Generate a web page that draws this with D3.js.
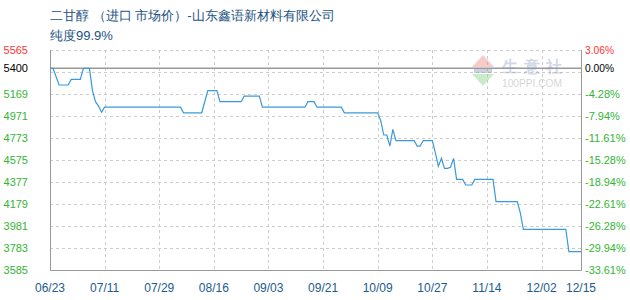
<!DOCTYPE HTML>
<html>
<head>
<meta charset="utf-8">
<script src="https://d3js.org/d3.v7.min.js"></script>
<style>
  body { margin: 0; background: #fff; }
  text { font-family: "Liberation Sans", Arial, sans-serif; }
</style>
</head>
<body>
<svg id="chart" width="630" height="300"></svg>
<script>

// price points (date, yuan/ton)
const dates = ["06/23","06/24","06/26","06/29","06/30","07/03","07/04","07/06","07/07","07/08",
  "07/09","07/10","07/11","08/05","08/06","08/12","08/14","08/17","08/18","08/25",
  "08/26","08/31","09/01","09/15","09/16","09/18","09/19","09/27","09/28","10/09",
  "10/10","10/11","10/12","10/13","10/14","10/15","10/21","10/22","10/23","10/24",
  "10/27","10/28","10/29","10/30","10/31","11/01","11/02","11/03","11/04","11/06",
  "11/07","11/09","11/10","11/16","11/17","11/24","11/25","11/26","12/10","12/11","12/15"];
const prices = [5400,5400,5250,5250,5300,5300,5400,5400,5200,5100,
  5060,5005,5050,5050,5000,5000,5200,5200,5100,5100,
  5150,5150,5050,5050,5100,5100,5050,5050,5000,5000,
  4930,4800,4800,4700,4850,4750,4750,4700,4700,4750,
  4750,4640,4520,4590,4500,4500,4510,4590,4400,4400,
  4350,4350,4400,4400,4200,4200,4100,3950,3950,3750,3750];

const basePrice = 5400;
const yTicks = [5565, 5169, 4971, 4773, 4575, 4377, 4179, 3981, 3783, 3585];
const gridTicks = [5565, 5367, 5169, 4971, 4773, 4575, 4377, 4179, 3981, 3783, 3585];
const xLabels = ["06/23","07/11","07/29","08/16","09/03","09/21","10/09","10/27","11/14","12/02","12/15"];

const title = "二甘醇 （进口 市场价）-山东鑫语新材料有限公司";
const subtitle = "纯度99.9%";

const parse = d3.timeParse("%Y/%m/%d");
const toDate = s => parse("2023/" + s);

const pLeft = 50, pRight = 581, pTop = 50, pBottom = 270;
const svg = d3.select("#chart");

const x = d3.scaleTime()
  .domain([toDate("06/23"), toDate("12/15")])
  .range([pLeft, pRight]);
const y = d3.scaleLinear()
  .domain([3585, 5565])
  .range([pBottom, pTop]);

const green = "#33b533", red = "#ff3333";
const labelColor = v => v > basePrice ? red : (v < basePrice ? green : "#000");
const pct = v => ((v / basePrice - 1) * 100).toFixed(2) + "%";

// title
svg.append("text").attr("x", 50).attr("y", 20)
  .attr("font-size", 13).attr("fill", "#1c5281")
  .attr("font-family", "'Noto Sans CJK SC', sans-serif")
  .text(title);
svg.append("text").attr("x", 50).attr("y", 40)
  .attr("font-size", 13).attr("fill", "#1c5281")
  .attr("font-family", "'Noto Sans CJK SC', sans-serif")
  .text(subtitle);

// dashed grid
svg.append("g").selectAll("line").data(gridTicks).join("line")
  .attr("x1", pLeft).attr("x2", pRight)
  .attr("y1", d => Math.round(y(d)) + 0.5).attr("y2", d => Math.round(y(d)) + 0.5)
  .attr("stroke", "#cccccc").attr("stroke-dasharray", "3,3");
svg.append("g").selectAll("line").data(xLabels.slice(1, -1)).join("line")
  .attr("x1", d => Math.round(x(toDate(d))) + 0.5).attr("x2", d => Math.round(x(toDate(d))) + 0.5)
  .attr("y1", pTop).attr("y2", pBottom)
  .attr("stroke", "#cccccc").attr("stroke-dasharray", "3,3");

// watermark
const wm = svg.append("g").attr("opacity", 0.4);
wm.append("path").attr("d", "M472,67 L483,55 L494,67 Z").attr("fill", "#f08080");
wm.append("path").attr("d", "M472,74 L483,86 L494,74 Z").attr("fill", "#80d080");
wm.append("rect").attr("x", 474).attr("y", 68).attr("width", 18).attr("height", 5).attr("fill", "#8090b0");
wm.append("text").attr("x", 502).attr("y", 72).attr("font-size", 16).attr("font-weight", "bold")
  .attr("letter-spacing", 6).attr("fill", "#8fa0c8")
  .attr("font-family", "'Noto Sans CJK SC', sans-serif").text("生意社");
wm.append("text").attr("x", 502).attr("y", 87).attr("font-size", 10).attr("fill", "#999")
  .attr("textLength", 60).attr("lengthAdjust", "spacingAndGlyphs")
  .text("100PPI.COM");

// frame
svg.append("path")
  .attr("d", `M${pLeft + 0.5},${pTop} V${pBottom + 0.5} H${pRight + 0.5} V${pTop}`)
  .attr("fill", "none").attr("stroke", "#999");
svg.append("line")
  .attr("x1", pLeft).attr("x2", pRight)
  .attr("y1", y(basePrice)).attr("y2", y(basePrice))
  .attr("stroke", "#999").attr("stroke-width", 1.5);

// y labels, left prices and right percentages
const yLabelVals = [yTicks[0], basePrice].concat(yTicks.slice(1));
svg.append("g").selectAll("text").data(yLabelVals).join("text")
  .attr("x", 28).attr("y", d => y(d) + 4)
  .attr("text-anchor", "end").attr("font-size", 11)
  .attr("fill", labelColor).text(d => d);
svg.append("g").selectAll("text").data(yLabelVals).join("text")
  .attr("x", 585).attr("y", d => y(d) + 4)
  .attr("font-size", 11).attr("font-family", "'DejaVu Sans Mono', monospace")
  .attr("textLength", d => pct(d).length * 5.8).attr("lengthAdjust", "spacingAndGlyphs")
  .attr("fill", labelColor).text(d => pct(d));

// x labels
svg.append("g").selectAll("text").data(xLabels).join("text")
  .attr("x", d => x(toDate(d))).attr("y", 292)
  .attr("text-anchor", "middle").attr("font-size", 12).attr("fill", "#1c5c8c")
  .text(d => d);

// price line
const line = d3.line()
  .x((d, i) => x(toDate(dates[i])))
  .y(d => y(d));
svg.append("path").datum(prices)
  .attr("d", line)
  .attr("fill", "none").attr("stroke", "#3a9ad9").attr("stroke-width", 1.2);

</script>
</body>
</html>
